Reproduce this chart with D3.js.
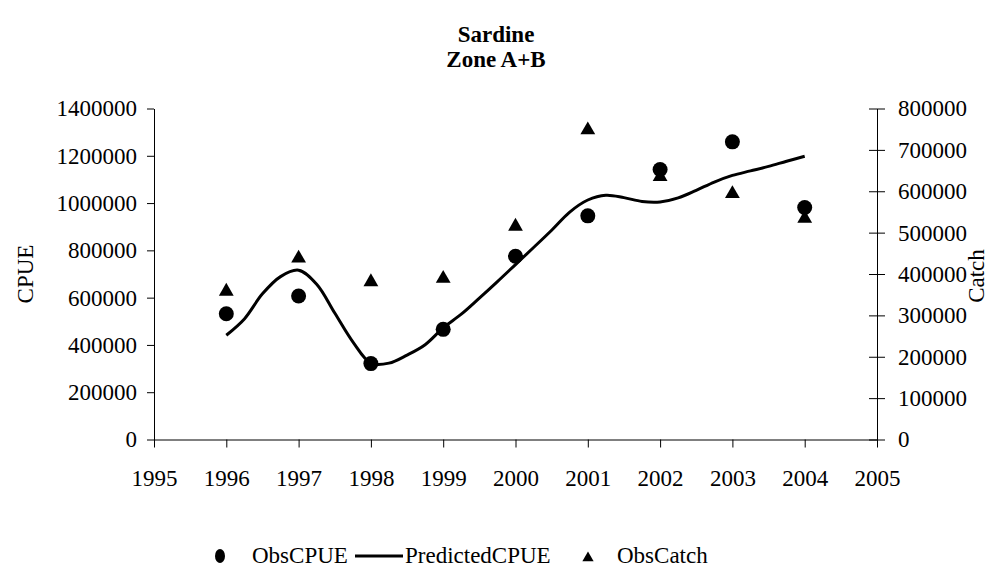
<!DOCTYPE html>
<html>
<head>
<meta charset="utf-8">
<script src="https://cdn.jsdelivr.net/npm/d3@7"></script>
<style>
  body { margin: 0; background: #fff; }
  text { font-family: "Liberation Serif", "Times New Roman", serif; fill: #000; }
</style>
</head>
<body>
<div id="chart"></div>
<script>
const WIDTH = 985;
const HEIGHT = 566;

// data
const years = [1996, 1997, 1998, 1999, 2000, 2001, 2002, 2003, 2004];
const obsCPUE = [532000, 607000, 321000, 466000, 775000, 946000, 1142000, 1259000, 981000];
const obsCatch = [358000, 438000, 381000, 389000, 515000, 748000, 635000, 594000, 534000];

const predTime = [1996, 1996.25, 1996.5, 1996.75, 1997, 1997.25, 1997.5, 1997.75,
    1998, 1998.25, 1998.5, 1998.75, 1999, 1999.25, 1999.5, 1999.75,
    2000, 2000.25, 2000.5, 2000.75, 2001, 2001.25, 2001.5, 2001.75,
    2002, 2002.25, 2002.5, 2002.75, 2003, 2003.25, 2003.5, 2003.75, 2004];
const predCPUE = [441000, 510000, 616000, 689000, 716000, 657000, 535000, 413000,
    323000, 323000, 357000, 401000, 472000, 530000, 598000, 668000,
    740000, 812000, 885000, 962000, 1013000, 1033000, 1023000, 1007000,
    1005000, 1022000, 1054000, 1089000, 1117000, 1136000, 1155000, 1177000, 1198000];

const xTicks = [1995, 1996, 1997, 1998, 1999, 2000, 2001, 2002, 2003, 2004, 2005];
const leftTicks = [0, 200000, 400000, 600000, 800000, 1000000, 1200000, 1400000];
const rightTicks = [0, 100000, 200000, 300000, 400000, 500000, 600000, 700000, 800000];

let svg = d3.select("#chart")
    .append("svg")
    .attr("width", WIDTH)
    .attr("height", HEIGHT);

let x = d3.scaleLinear().domain([1995, 2005]).range([154, 877]);
let yL = d3.scaleLinear().domain([0, 1400000]).range([439.5, 108.5]);
let yR = d3.scaleLinear().domain([0, 800000]).range([439.5, 108.5]);

// title
svg.append("text")
    .attr("x", 496).attr("y", 42)
    .attr("text-anchor", "middle")
    .style("font-weight", "bold")
    .style("font-size", "23px")
    .text("Sardine");
svg.append("text")
    .attr("x", 496).attr("y", 67)
    .attr("text-anchor", "middle")
    .style("font-weight", "bold")
    .style("font-size", "23px")
    .text("Zone A+B");

// axes
let left = svg.append("g")
    .attr("transform", "translate(" + x(1995) + ",0)")
    .call(d3.axisLeft(yL).tickValues(leftTicks).tickFormat(d3.format("d"))
        .tickSizeInner(7).tickSizeOuter(0).tickPadding(10));

let right = svg.append("g")
    .attr("transform", "translate(" + x(2005) + ",0)")
    .call(d3.axisRight(yR).tickValues(rightTicks).tickFormat(d3.format("d"))
        .tickSizeInner(8).tickSizeOuter(0).tickPadding(13));
right.selectAll(".tick line").attr("x1", -8);

let bottom = svg.append("g")
    .attr("transform", "translate(0," + yL(0) + ")")
    .call(d3.axisBottom(x).tickValues(xTicks).tickFormat(d3.format("d"))
        .tickSizeInner(8).tickSizeOuter(0).tickPadding(22));

svg.selectAll(".domain, .tick line").attr("stroke", "#000").attr("stroke-width", 1);
svg.selectAll(".tick text")
    .style("font-family", "'Liberation Serif', serif")
    .style("font-size", "23px")
    .attr("fill", "#000");

// axis titles
svg.append("text")
    .attr("transform", "translate(33,274) rotate(-90)")
    .attr("text-anchor", "middle")
    .style("font-size", "23px")
    .text("CPUE");
svg.append("text")
    .attr("transform", "translate(984,276) rotate(-90)")
    .attr("text-anchor", "middle")
    .style("font-size", "23px")
    .text("Catch");

// predicted line
let line = d3.line()
    .x((d, i) => x(predTime[i]))
    .y(d => yL(d))
    .curve(d3.curveCatmullRom);

svg.append("path")
    .datum(predCPUE)
    .attr("d", line)
    .attr("fill", "none")
    .attr("stroke", "#000")
    .attr("stroke-width", 3)
    .attr("stroke-linejoin", "round");

// observed catch
let tri = d3.symbol().type(d3.symbolTriangle).size(95);
svg.selectAll(".catch")
    .data(obsCatch)
    .enter()
    .append("path")
    .attr("class", "catch")
    .attr("d", tri)
    .attr("transform", (d, i) => "translate(" + x(years[i]) + "," + yR(d) + ")")
    .attr("fill", "#000");

// observed cpue
svg.selectAll(".cpue")
    .data(obsCPUE)
    .enter()
    .append("circle")
    .attr("class", "cpue")
    .attr("cx", (d, i) => x(years[i]))
    .attr("cy", d => yL(d))
    .attr("r", 7.5)
    .attr("fill", "#000");

// legend
let legend = svg.append("g");
legend.append("ellipse")
    .attr("cx", 220).attr("cy", 556).attr("rx", 5).attr("ry", 7)
    .attr("fill", "#000");
legend.append("text").attr("x", 252).attr("y", 563).style("font-size", "23px").text("ObsCPUE");
legend.append("line")
    .attr("x1", 355).attr("x2", 403).attr("y1", 556).attr("y2", 556)
    .attr("stroke", "#000").attr("stroke-width", 3);
legend.append("text").attr("x", 405).attr("y", 563).style("font-size", "23px").text("PredictedCPUE");
legend.append("path")
    .attr("d", d3.symbol().type(d3.symbolTriangle).size(55))
    .attr("transform", "translate(588,558)")
    .attr("fill", "#000");
legend.append("text").attr("x", 617).attr("y", 563).style("font-size", "23px").text("ObsCatch");
</script>
</body>
</html>
